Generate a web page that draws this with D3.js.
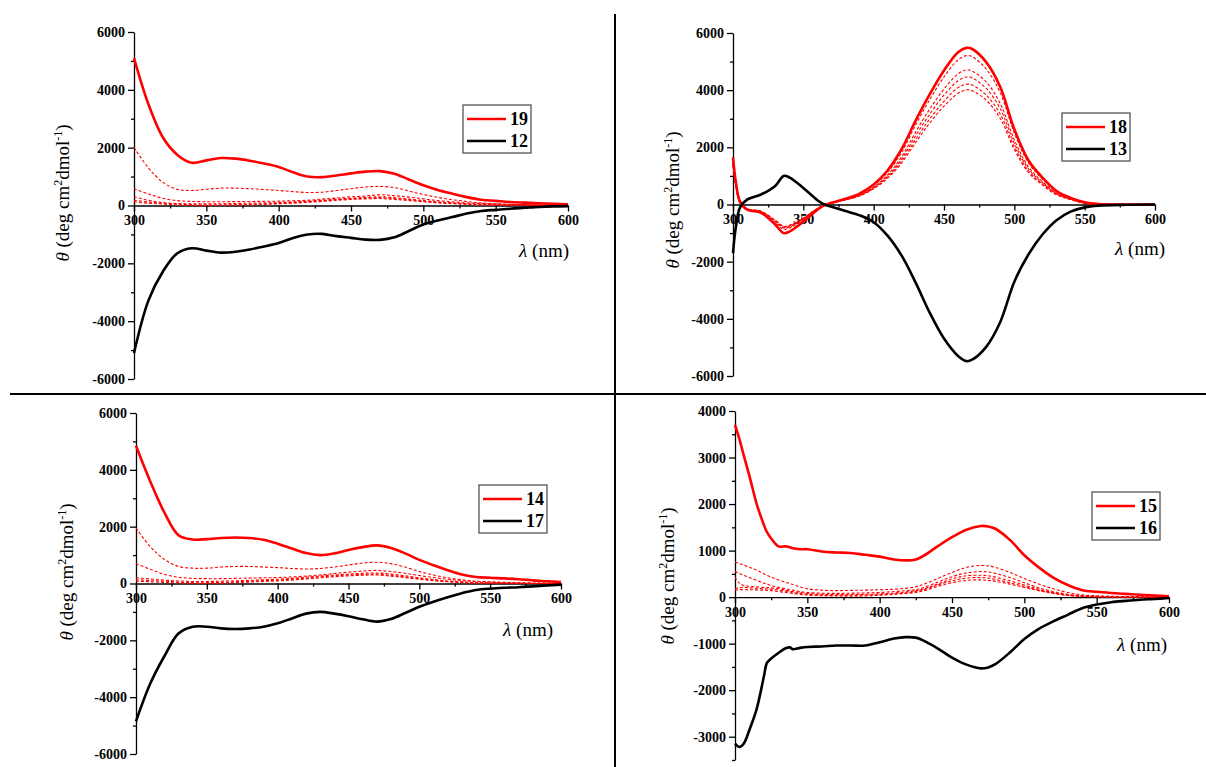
<!DOCTYPE html>
<html>
<head>
<meta charset="utf-8">
<script src="https://cdn.jsdelivr.net/npm/d3@7"></script>
<style>
  body { margin: 0; background: #fff; }
  svg { display: block; }
  svg text { font-family: "Liberation Serif", "Times New Roman", serif; }
  .tick text { font-size: 14px; font-weight: bold; fill: #000; font-family: "Liberation Serif", "Times New Roman", serif; }
  .axis path, .axis line { stroke: #000; stroke-width: 1.3px; }
</style>
</head>
<body>
<svg id="chart" width="1206" height="767"></svg>
<script>

// ---- panel 1 (19 / 12) ----
const grid1 = [300,310,320,330,340,350,360,370,380,390,400,410,420,430,440,450,460,470,480,490,500,510,520,530,540,550,560,570,580,590,600];
const red19 = [5100,3500,2350,1750,1480,1560,1640,1620,1550,1450,1330,1150,1000,980,1040,1110,1170,1190,1100,900,700,540,410,290,200,160,120,100,80,60,40];
const black12 = [-5100,-3280,-2280,-1650,-1480,-1560,-1630,-1600,-1520,-1420,-1300,-1120,-1000,-980,-1060,-1120,-1180,-1190,-1100,-880,-660,-520,-400,-280,-190,-150,-110,-80,-50,-30,-20];
const dash1 = [
  [2000,1300,800,560,520,560,600,600,580,550,520,480,450,460,520,580,640,660,620,500,380,280,200,140,90,60,40,30,20,15,10],
  [580,400,250,170,140,130,130,135,140,145,150,165,180,220,260,300,330,370,340,290,230,170,130,90,70,50,40,30,20,15,10],
  [300,180,100,70,60,60,60,70,80,90,100,120,150,180,220,250,280,300,270,220,170,120,90,60,40,25,15,10,10,5,5],
  [180,120,80,50,30,25,20,30,40,55,70,100,130,160,200,230,250,270,240,200,150,110,80,50,30,20,10,5,0,0,0],
  [120,80,50,20,0,-5,0,10,20,40,60,80,110,140,180,210,230,240,210,170,130,90,60,40,20,10,5,0,0,0,0]
];

// ---- panel 2 (18 / 13) ----
const grid2 = [300,302,305,310,320,330,336,340,350,360,365,370,380,390,400,410,420,430,440,450,460,466,470,480,490,500,510,520,530,540,550,560,580,600];
const red18 = [1650,800,100,-180,-290,-700,-1000,-950,-600,-180,-20,60,200,380,700,1200,1950,2950,3870,4690,5330,5480,5440,4980,4110,2630,1550,940,470,230,80,20,0,0];
const black13 = [-1700,-800,-100,170,350,650,1000,950,580,150,0,-80,-230,-380,-620,-1100,-1800,-2750,-3800,-4690,-5300,-5480,-5430,-4980,-4110,-2700,-1750,-1050,-550,-250,-100,-40,-10,0];
const dash2 = [
  [1500,700,60,-170,-270,-640,-870,-830,-540,-160,-20,55,190,360,660,1130,1830,2800,3680,4460,5060,5210,5170,4740,3910,2500,1460,890,450,220,70,20,0,0],
  [1450,680,60,-160,-260,-600,-820,-790,-510,-150,-20,50,175,330,610,1040,1680,2550,3350,4040,4570,4710,4670,4290,3530,2260,1320,800,400,200,60,15,0,0],
  [1420,660,60,-160,-250,-580,-800,-770,-500,-145,-20,50,170,320,590,1000,1600,2420,3170,3830,4330,4460,4430,4060,3350,2140,1250,760,380,190,55,15,0,0],
  [1400,650,60,-150,-240,-560,-780,-750,-480,-140,-20,45,165,310,570,960,1520,2290,3000,3610,4090,4210,4180,3830,3160,2020,1180,720,360,180,50,15,0,0],
  [1380,640,60,-150,-240,-550,-760,-730,-470,-135,-20,45,160,300,550,920,1460,2180,2860,3440,3890,4010,3980,3650,3010,1920,1120,680,340,170,45,15,0,0]
];

// ---- panel 3 (14 / 17) ----
const grid3 = grid1;
const red14 = [4850,3600,2500,1700,1550,1560,1600,1620,1600,1540,1400,1230,1070,1000,1060,1180,1280,1340,1250,1060,830,640,470,320,230,200,180,150,110,80,50];
const black17 = [-4850,-3530,-2560,-1760,-1520,-1520,-1580,-1600,-1580,-1520,-1400,-1230,-1060,-1000,-1060,-1150,-1260,-1340,-1250,-1040,-820,-640,-480,-340,-230,-180,-150,-130,-100,-70,-40];
const dash3 = [
  [1950,1300,850,600,540,540,580,600,600,580,560,530,510,530,580,650,720,750,700,580,420,300,200,130,80,60,40,30,20,15,10],
  [700,500,320,220,180,170,170,180,190,200,210,230,260,300,350,400,440,460,420,360,280,210,150,100,70,50,30,20,10,5,0],
  [200,160,120,90,70,70,80,95,110,130,150,180,220,260,300,330,360,370,330,270,200,140,90,60,30,20,10,5,0,0,0],
  [130,100,80,50,30,30,40,60,80,100,120,150,190,230,270,300,320,330,290,230,170,120,70,40,20,10,5,0,0,0,0],
  [80,60,40,20,0,0,10,30,50,70,90,120,160,200,240,270,290,300,260,210,150,100,60,30,10,5,0,0,0,0,0]
];

// ---- panel 4 (15 / 16) ----
const grid4 = [300,303,306,310,315,320,322,325,330,335,338,340,345,350,360,370,380,390,400,410,418,425,430,440,450,460,470,475,480,490,500,510,520,530,540,550,560,570,580,590,600];
const red15 = [3700,3400,3050,2600,2000,1550,1400,1260,1090,1090,1070,1050,1030,1030,980,960,950,910,870,810,790,810,880,1090,1290,1450,1530,1520,1470,1230,900,640,420,260,150,115,90,70,50,35,20];
const black16 = [-3150,-3220,-3150,-2850,-2400,-1700,-1420,-1320,-1200,-1100,-1080,-1120,-1090,-1070,-1060,-1040,-1040,-1040,-970,-890,-860,-870,-930,-1100,-1300,-1450,-1530,-1510,-1440,-1190,-900,-680,-520,-380,-240,-160,-110,-80,-55,-40,-20];
const dash4 = [
  [750,720,690,640,580,500,470,430,370,320,290,270,220,180,150,140,145,150,160,170,190,220,270,400,530,640,680,670,640,530,400,280,180,100,50,30,20,10,5,0,0],
  [550,510,470,420,360,300,280,250,210,180,160,150,120,100,85,80,85,90,100,120,140,160,200,320,440,520,550,540,510,420,310,200,120,60,30,15,10,5,0,0,0],
  [430,300,250,230,220,210,205,200,180,150,130,120,100,80,60,55,55,60,70,90,110,140,170,280,390,460,470,460,430,350,260,170,100,50,25,10,5,0,0,0,0],
  [180,200,210,200,190,180,175,170,150,130,115,100,80,60,45,40,40,45,50,70,90,120,150,260,350,410,420,410,380,310,230,150,90,40,20,10,5,0,0,0,0],
  [150,160,160,160,155,150,145,140,120,100,90,80,60,45,30,25,20,25,40,60,80,100,130,230,310,360,370,360,340,280,210,140,80,35,15,5,0,0,0,0,0]
];

const xTicks = [300,350,400,450,500,550,600];

const panels = [
  { grid: grid1, red: red19, black: black12, dashes: dash1, names: ["19","12"],
    px: [134, 568], py: [32, 379], yDomain: [6000, -6000], yStep: 2000,
    legend: [463, 105], ylab: [62, 193], xlab: [569, 257] },
  { grid: grid2, red: red18, black: black13, dashes: dash2, names: ["18","13"],
    px: [733, 1155], py: [33, 376], yDomain: [6000, -6000], yStep: 2000,
    legend: [1062, 113], ylab: [672, 200], xlab: [1165, 255] },
  { grid: grid3, red: red14, black: black17, dashes: dash3, names: ["14","17"],
    px: [136, 561], py: [413, 754], yDomain: [6000, -6000], yStep: 2000,
    legend: [479, 485], ylab: [66, 572], xlab: [553, 636] },
  { grid: grid4, red: red15, black: black16, dashes: dash4, names: ["15","16"],
    px: [735, 1169], py: [411, 760], yDomain: [4000, -3500], yStep: 1000,
    legend: [1092, 492], ylab: [667, 576], xlab: [1167, 651] }
];

const FONT = "Liberation Serif, Times New Roman, serif";
const svg = d3.select("#chart");

// dividers
svg.append("line").attr("x1", 615).attr("x2", 615).attr("y1", 14).attr("y2", 767)
  .attr("stroke", "#000").attr("stroke-width", 2);
svg.append("line").attr("x1", 10).attr("x2", 1206).attr("y1", 394).attr("y2", 394)
  .attr("stroke", "#000").attr("stroke-width", 2);

function drawPanel(p) {
  const x = d3.scaleLinear().domain([300, 600]).range(p.px);
  const y = d3.scaleLinear().domain(p.yDomain).range(p.py);
  const g = svg.append("g").attr("font-family", FONT);

  const yMajor = d3.range(Math.ceil(p.yDomain[1] / p.yStep) * p.yStep, p.yDomain[0] + 1, p.yStep);
  const yMinor = d3.range(p.yDomain[1], p.yDomain[0] + 1, p.yStep / 2).filter(v => !yMajor.includes(v));
  const xMinor = d3.range(325, 600, 50);

  // y axis
  g.append("g").attr("class", "axis").attr("transform", "translate(" + p.px[0] + ",0)")
    .call(d3.axisLeft(y).tickValues(yMajor).tickFormat(d => String(d)).tickSize(6).tickSizeOuter(0).tickPadding(3))
    .attr("font-family", FONT);
  g.append("g").attr("class", "axis").attr("transform", "translate(" + p.px[0] + ",0)")
    .call(d3.axisLeft(y).tickValues(yMinor).tickFormat("").tickSize(3).tickSizeOuter(0))
    .select(".domain").remove();

  // x axis along zero
  g.append("g").attr("class", "axis").attr("transform", "translate(0," + y(0) + ")")
    .call(d3.axisBottom(x).tickValues(xTicks).tickFormat(d => String(d)).tickSize(6).tickSizeOuter(0).tickPadding(4))
    .attr("font-family", FONT);
  g.append("g").attr("class", "axis").attr("transform", "translate(0," + y(0) + ")")
    .call(d3.axisBottom(x).tickValues(xMinor).tickFormat("").tickSize(3).tickSizeOuter(0))
    .select(".domain").remove();

  const line = d3.line()
    .x((d, i) => x(p.grid[i]))
    .y(d => y(d))
    .curve(d3.curveCatmullRom.alpha(0.5));

  p.dashes.forEach(s => {
    g.append("path").attr("d", line(s)).attr("fill", "none")
      .attr("stroke", "#f00").attr("stroke-width", 1.1).attr("stroke-dasharray", "3,2");
  });
  g.append("path").attr("d", line(p.red)).attr("fill", "none")
    .attr("stroke", "#f00").attr("stroke-width", 2.6);
  g.append("path").attr("d", line(p.black)).attr("fill", "none")
    .attr("stroke", "#000").attr("stroke-width", 2.6);

  // legend
  const lg = g.append("g").attr("transform", "translate(" + p.legend[0] + "," + p.legend[1] + ")");
  lg.append("rect").attr("width", 68).attr("height", 48).attr("fill", "#fff")
    .attr("stroke", "#555").attr("stroke-width", 1.3);
  [["#f00", p.names[0]], ["#000", p.names[1]]].forEach((e, i) => {
    lg.append("line").attr("x1", 4).attr("x2", 43).attr("y1", 14 + i * 22).attr("y2", 14 + i * 22)
      .attr("stroke", e[0]).attr("stroke-width", 2.6);
    lg.append("text").attr("x", 47).attr("y", 20 + i * 22).text(e[1])
      .attr("font-size", 18).attr("font-weight", "bold");
  });

  // y title
  const yt = g.append("text")
    .attr("transform", "translate(" + p.ylab[0] + "," + p.ylab[1] + ") rotate(-90)")
    .attr("text-anchor", "middle").attr("font-size", 19).attr("dy", "0.35em");
  yt.append("tspan").attr("font-style", "italic").text("θ");
  yt.append("tspan").text(" (deg cm");
  yt.append("tspan").attr("baseline-shift", "super").attr("font-size", 12).text("2");
  yt.append("tspan").text("dmol");
  yt.append("tspan").attr("baseline-shift", "super").attr("font-size", 12).text("-1");
  yt.append("tspan").text(")");

  // x title
  const xt = g.append("text").attr("x", p.xlab[0]).attr("y", p.xlab[1])
    .attr("text-anchor", "end").attr("font-size", 19);
  xt.append("tspan").attr("font-style", "italic").text("λ");
  xt.append("tspan").text(" (nm)");
}

panels.forEach(drawPanel);
</script>
</body>
</html>
